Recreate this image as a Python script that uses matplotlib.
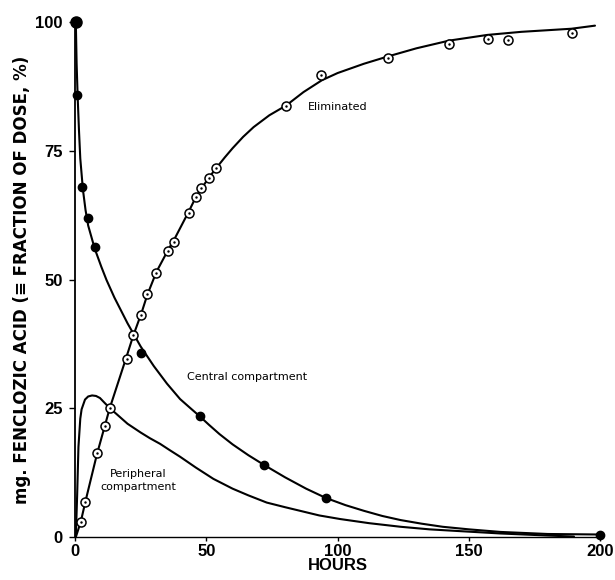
import numpy as np
import matplotlib
matplotlib.use('Agg')
import matplotlib.pyplot as plt

# ===== 数据=====
# 中央室 实测点（实心圆）
central_t = [0.4, 0.9, 2.8, 4.8, 7.5, 25.1, 47.6, 72.1, 95.5, 200]
central_y = [100, 85.8, 67.9, 61.9, 56.3, 35.8, 23.6, 13.9, 7.6, 0.5]

# 排泄量 实测点（空心圆）
elim_t = [2.2, 3.9, 8.3, 11.3, 13.2, 19.6, 22.1, 25.3, 27.5, 30.9, 35.5, 37.8,
          43.4, 46.1, 48.0, 51.0, 53.7, 80.4, 93.8, 119, 142.5, 157.4, 165, 189.4]
elim_y = [2.9, 6.9, 16.4, 21.6, 25.1, 34.6, 39.2, 43.2, 47.2, 51.3, 55.6, 57.3,
          62.9, 66.1, 67.8, 69.8, 71.7, 83.7, 89.7, 93.1, 95.7, 96.8, 96.5, 97.8]

# 拟合曲线
central_ct = [0.3, 0.6, 1.0, 1.5, 2, 3, 4, 5, 7.5, 10, 12, 15, 20, 25, 30, 35, 40,
              44, 47.6, 51, 55, 60, 66, 72, 80, 88, 95.5, 103, 110, 117, 124, 132,
              140, 150, 162, 180, 200]
central_cy = [100, 92, 85.5, 79, 73.5, 67.5, 63.5, 60.5, 56, 52.5, 49.9, 46.5, 41.5,
              37, 33.2, 29.8, 26.8, 25.0, 23.4, 21.8, 20, 18, 15.9, 14, 11.6, 9.4,
              7.6, 6.2, 5.1, 4.1, 3.3, 2.6, 2.0, 1.5, 1.0, 0.6, 0.5]

periph_ct = [0.3, 0.8, 1.3, 2, 2.5, 3.8, 5, 6.5, 8, 9.5, 11, 13.1, 16, 20, 25, 28.5,
             32.4, 36, 40, 46, 52.7, 60, 66, 73, 80, 85.7, 93, 101, 112, 124, 135,
             145, 162, 180, 190]
periph_cy = [0, 8, 17.5, 23, 24.8, 26.7, 27.3, 27.5, 27.4, 27.0, 26.2, 25.1, 23.8,
             22, 20.3, 19.2, 18.1, 16.9, 15.6, 13.5, 11.3, 9.4, 8.1, 6.7, 5.8, 5.1,
             4.2, 3.5, 2.7, 2.0, 1.5, 1.2, 0.7, 0.3, 0.1]

elim_ct = [0.3, 2.2, 4, 8.3, 13.2, 19.6, 22.1, 25.3, 27.5, 31, 35.5, 38, 43.4, 46,
           48, 51, 53.7, 57, 60, 64, 68, 74, 80.4, 87, 94, 100, 110, 119, 130,
           142.5, 157, 170, 189, 198]
elim_cy = [0, 3, 7, 16, 25, 35, 39, 43.5, 47, 51.5, 55.8, 58, 63.3, 66, 67.6, 69.8,
           71.6, 73.7, 75.5, 77.7, 79.6, 81.9, 83.8, 86.4, 88.7, 90.1, 91.9, 93.3,
           94.9, 96.4, 97.5, 98.1, 98.7, 99.3]

xticks = [0, 50, 100, 150, 200]
yticks = [0, 25, 50, 75, 100]

# ===== 画图 =====
fig = plt.figure(figsize=(6.15, 5.8), dpi=100)
ax = fig.add_axes([0.122, 0.074, 0.854, 0.888])

ax.plot(central_ct, central_cy, 'k-', linewidth=1.5, solid_capstyle='round',
        solid_joinstyle='round')
ax.plot(periph_ct, periph_cy, 'k-', linewidth=1.5, solid_capstyle='round',
        solid_joinstyle='round')
ax.plot(elim_ct, elim_cy, 'k-', linewidth=1.5, solid_capstyle='round',
        solid_joinstyle='round')

ax.plot(central_t[1:], central_y[1:], 'o', color='k', markersize=6, clip_on=False, zorder=4)
ax.plot(central_t[:1], central_y[:1], 'o', color='k', markersize=8, clip_on=False, zorder=4)
ax.plot(elim_t, elim_y, 'o', markerfacecolor='white', markeredgecolor='k',
        markeredgewidth=1.1, markersize=6.5, clip_on=False, zorder=4)
ax.plot(elim_t, elim_y, '.', color='k', markersize=1.5, zorder=5)

txt = dict(fontsize=8, family=['DejaVu Sans'], color='k')
ax.text(88.8, 83.5, 'Eliminated', ha='left', va='center', **txt)
ax.text(65.7, 31.1, 'Central compartment', ha='center', va='center', **txt)
ax.text(24.1, 11.0, 'Peripheral\ncompartment', ha='center', va='center',
        linespacing=1.3, **txt)

ax.set_xlim(0, 200)
ax.set_ylim(0, 100)
ax.set_xticks(xticks)
ax.set_yticks(yticks)
for s in ['top', 'right']:
    ax.spines[s].set_visible(False)
ax.spines['left'].set_linewidth(1.3)
ax.spines['bottom'].set_linewidth(1.0)
ax.tick_params(axis='y', length=4, width=1, direction='out', pad=5)
ax.tick_params(axis='x', length=3, width=1, direction='out', pad=2)
for lab in ax.get_xticklabels() + ax.get_yticklabels():
    lab.set_fontsize(12)
    lab.set_fontweight('bold')
    lab.set_family(['Liberation Sans Narrow', 'Liberation Sans', 'DejaVu Sans'])

ax.set_xlabel('HOURS', fontsize=12, fontweight='bold', labelpad=-1,
              family=['Liberation Sans', 'DejaVu Sans'])
ax.set_ylabel('mg. FENCLOZIC ACID (≡ FRACTION OF DOSE, %)', fontsize=12,
              fontweight='bold', labelpad=3, family=['DejaVu Sans'])

plt.savefig('out.png', dpi=100)
